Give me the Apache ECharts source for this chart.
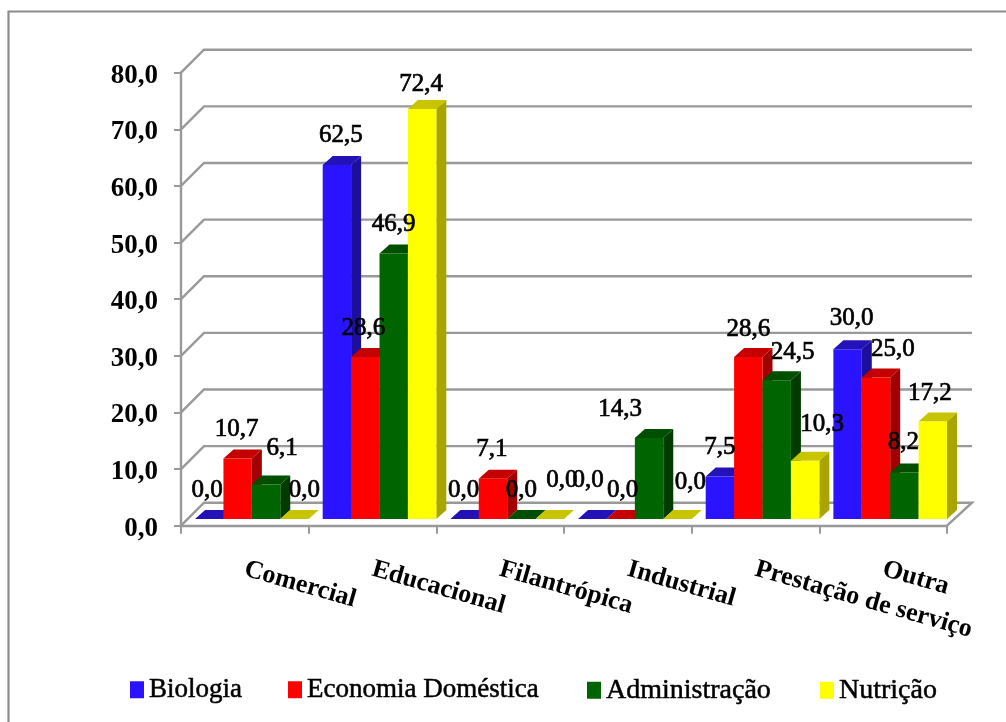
<!DOCTYPE html>
<html><head><meta charset="utf-8">
<style>html,body{margin:0;padding:0;background:#fff}#c{width:1006px;height:722px}</style>
<script src="https://cdn.jsdelivr.net/npm/echarts@6/dist/echarts.min.js"></script>
</head><body><div id="c"></div>
<script>
const categories = ['Comercial','Educacional','Filantrópica','Industrial','Prestação de serviço','Outra'];
const ticks = [0,10,20,30,40,50,60,70,80];
const biologia = [0.0,62.5,0.0,0.0,7.5,30.0];
const economia = [10.7,28.6,7.1,0.0,28.6,25.0];
const administracao = [6.1,46.9,0.0,14.3,24.5,8.2];
const nutricao = [0.0,72.4,0.0,0.0,10.3,17.2];
const seriesNames = ['Biologia','Economia Doméstica','Administração','Nutrição'];
const seriesValues = [biologia,economia,administracao,nutricao];

const faces = [
  {front:'#2a14ff',top:'#2312b8',side:'#1c0f9c'},
  {front:'#ff0000',top:'#c40000',side:'#a00000'},
  {front:'#006400',top:'#004f00',side:'#003c00'},
  {front:'#ffff00',top:'#c8c400',side:'#a8a400'}
];
// label nudges in px from the bar's front-top centre, as the original placed them
const labelShift = [
  [[-2,-29],[4,-30],[-1,-29],[-4,-39],[0,-29],[4,-31]],
  [[-1,-29],[-2,-29],[-1,-29],[2,-29],[0,-28],[17,-28]],
  [[16,-36],[0,-29],[0,-29],[-29,-29],[16,-28],[-1,-30]],
  [[10,-29],[-1,-25],[12,-39],[13,-37],[17,-36],[-3,-28]]
];
const legendLeft = [130,288,587,820];
const WALL = 23, BD = 10, BH = 9, LIFT = 6.7, GROUP = 0.11, BAR = 0.2225;
const FF = '"Liberation Serif","Times New Roman",serif';

function barGeom(api, s, cat, val){
  const band = api.size([1,0])[0];
  const c = api.coord([cat, val]);
  const x0 = c[0] - band/2 + band*GROUP + band*BAR*s;
  return {x0, x1:x0+band*BAR, y:c[1]-LIFT, base:api.coord([cat,0])[1]-LIFT};
}
function barSeries(s){
  return {
    type:'custom', name:seriesNames[s], coordinateSystem:'cartesian2d', z:3+s,
    itemStyle:{color:faces[s].front}, clip:false,
    data:seriesValues[s].map((v,i)=>[i,v]),
    encode:{x:0,y:1},
    renderItem(p,api){
      const g = barGeom(api,s,api.value(0),api.value(1));
      const f = faces[s];
      const ch = [
        {type:'polygon',shape:{points:[[g.x1,g.y],[g.x1+BD,g.y-BH],[g.x1+BD,g.base-BH],[g.x1,g.base]]},style:{fill:f.side}},
        {type:'polygon',shape:{points:[[g.x0,g.y],[g.x0+BD,g.y-BH],[g.x1+BD,g.y-BH],[g.x1,g.y]]},style:{fill:f.top}}
      ];
      if(api.value(1)>0) ch.push({type:'rect',shape:{x:g.x0,y:g.y,width:g.x1-g.x0,height:g.base-g.y},style:{fill:f.front}});
      return {type:'group',children:ch};
    }
  };
}
const labelData = [];
seriesValues.forEach((arr,s)=>arr.forEach((v,i)=>labelData.push([i,v,s])));
const labelSeries = {
  type:'custom', z:20, clip:false, silent:true, data:labelData, encode:{x:0,y:1},
  renderItem(p,api){
    const s=api.value(2), i=api.value(0), v=api.value(1);
    const g=barGeom(api,s,i,v), sh=labelShift[s][i];
    return {type:'text',style:{text:v.toFixed(1).replace('.',','),x:(g.x0+g.x1)/2+sh[0],y:g.y+sh[1],
      align:'center',verticalAlign:'middle',font:'25px '+FF,fill:'#000',stroke:'#000',lineWidth:0.7}};
  }
};
const wallSeries = {
  type:'custom', z:1, clip:false, silent:true, data:ticks.map(t=>[0,t]), encode:{y:1},
  renderItem(p,api){
    const band=api.size([1,0])[0];
    const a=api.coord([0,api.value(1)]); const xl=a[0]-band/2, y=a[1];
    const xr=xl+band*categories.length;
    const pts=[[xl,y],[xl+WALL,y-WALL],[xr+WALL+2,y-WALL]];
    if(api.value(1)===0) pts.push([xr,y]);
    return {type:'polyline',shape:{points:pts},style:{fill:'none',stroke:'#999',lineWidth:2.4}};
  }
};
const chart = echarts.init(document.getElementById('c'),null,{renderer:'canvas'});
chart.setOption({
  animation:false, backgroundColor:'#fff',
  graphic:[{type:'polyline',silent:true,shape:{points:[[8.5,722],[8.5,11.5],[1006,11.5]]},style:{fill:'none',stroke:'#8c8c8c',lineWidth:2.2}}],
  grid:{left:181,right:59,top:72.7,bottom:196.3,containLabel:false},
  legend:seriesNames.map((n,i)=>({left:legendLeft[i],top:676,padding:0,icon:'rect',itemWidth:14,itemHeight:17,data:[n],selectedMode:false,
    textStyle:{fontFamily:FF,fontSize:i===2||i===3?28:27,color:'#000',textBorderColor:'#000',textBorderWidth:0.5}})),
  xAxis:{type:'category',data:categories,boundaryGap:true,
    axisLine:{show:true,lineStyle:{color:'#999',width:2.4}},
    axisTick:{show:true,length:8,lineStyle:{color:'#999',width:2},alignWithLabel:false},
    splitLine:{show:false},
    axisLabel:{interval:0,rotate:-16,margin:43,fontFamily:FF,fontWeight:'bold',fontSize:26,color:'#000'}},
  yAxis:{type:'value',min:0,max:80,interval:10,
    axisLine:{show:true,lineStyle:{color:'#999',width:2.4}},
    axisTick:{show:true,length:7,lineStyle:{color:'#999',width:2}},
    splitLine:{show:false},
    axisLabel:{margin:23,verticalAlign:'top',lineHeight:6,fontFamily:FF,fontWeight:'bold',fontSize:27,color:'#000',formatter:v=>v.toFixed(1).replace('.',',')}},
  series:[wallSeries,...seriesValues.map((_,s)=>barSeries(s)),labelSeries]
});
</script></body></html>
